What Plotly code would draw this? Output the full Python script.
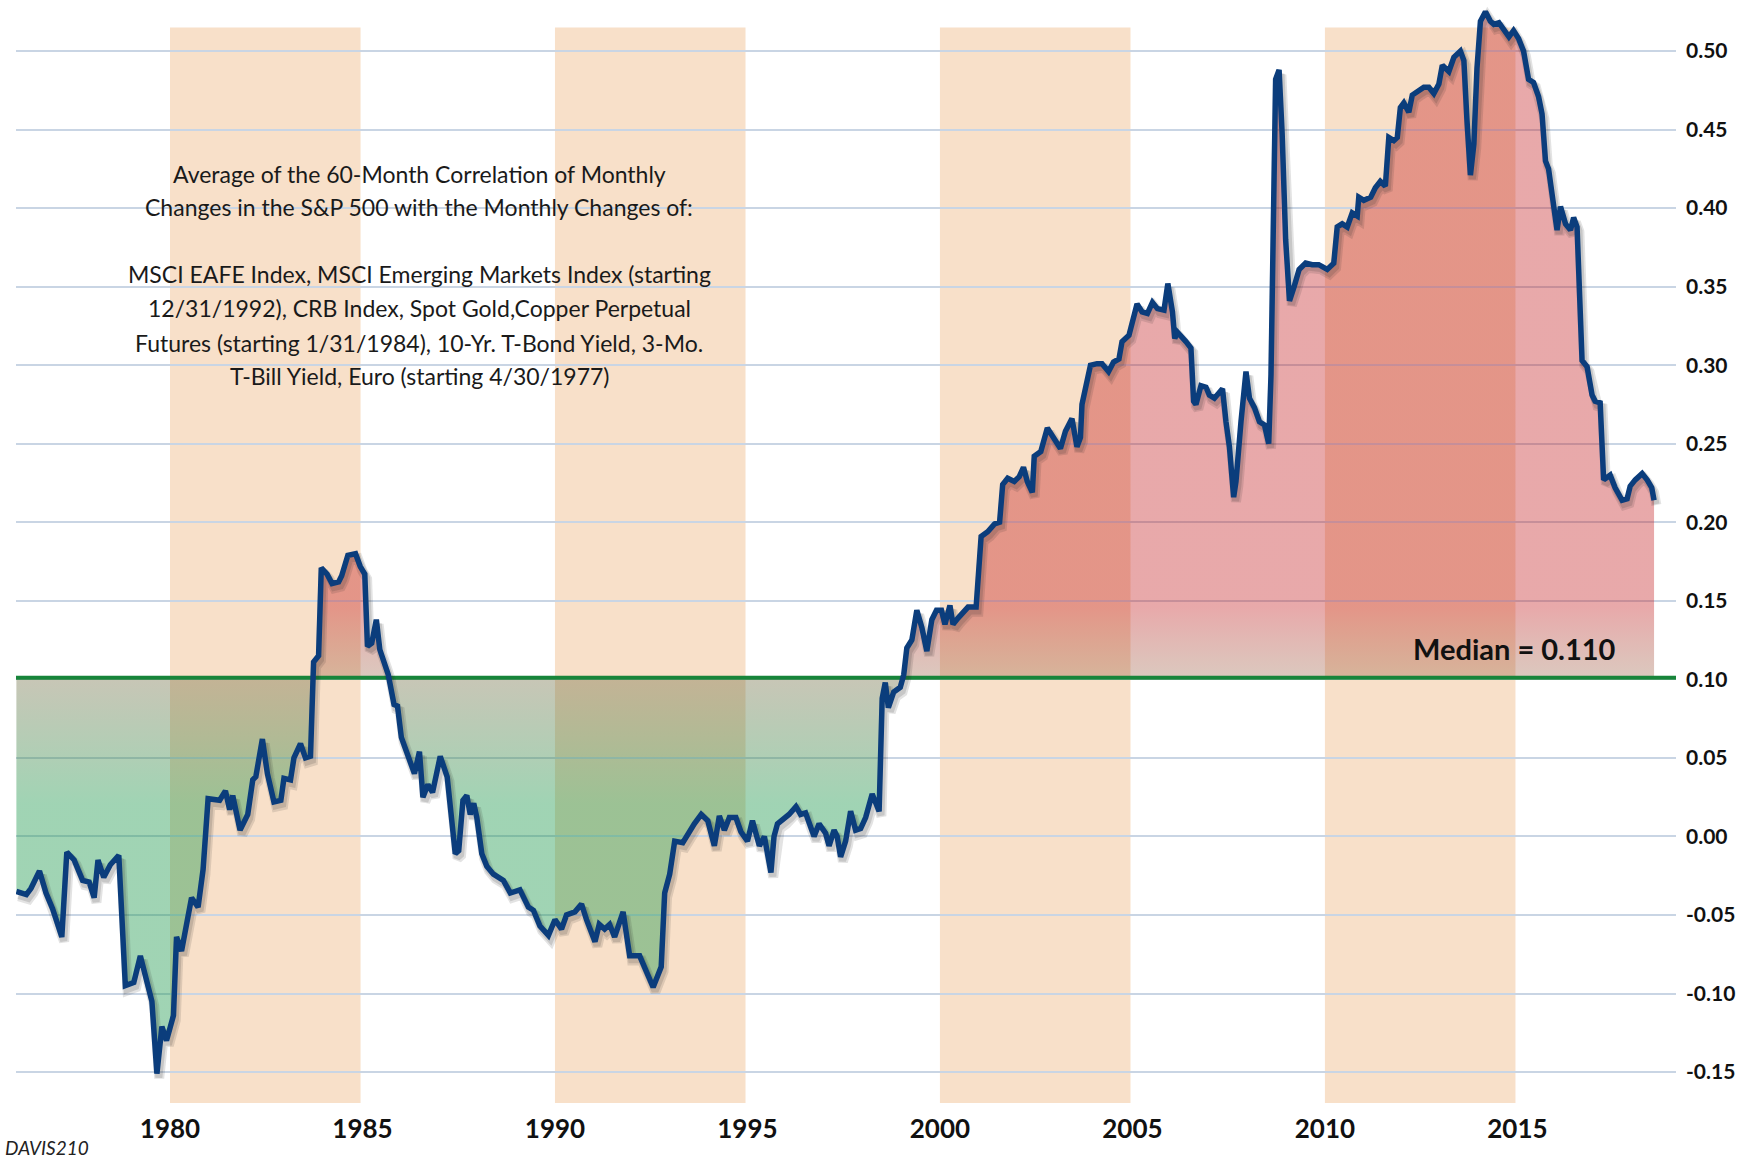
import plotly.graph_objects as go

# ---------------- data ----------------
years = [
    1976.01, 1976.27, 1976.39, 1976.61, 1976.78, 1976.95, 1977.19, 1977.32, 1977.51, 1977.73,
    1977.90, 1978.03, 1978.13, 1978.28, 1978.45, 1978.67, 1978.84, 1979.06, 1979.23, 1979.53,
    1979.66, 1979.79, 1979.91, 1980.09, 1980.17, 1980.30, 1980.56, 1980.73, 1980.86, 1980.99,
    1981.29, 1981.44, 1981.55, 1981.63, 1981.82, 1982.02, 1982.15, 1982.23, 1982.40, 1982.53,
    1982.70, 1982.88, 1982.96, 1983.13, 1983.22, 1983.39, 1983.52, 1983.65, 1983.73, 1983.86,
    1983.93, 1984.08, 1984.21, 1984.38, 1984.46, 1984.62, 1984.82, 1984.94, 1985.06, 1985.13,
    1985.24, 1985.36, 1985.45, 1985.58, 1985.67, 1985.82, 1985.91, 1986.01, 1986.18, 1986.35,
    1986.48, 1986.57, 1986.70, 1986.82, 1987.02, 1987.20, 1987.41, 1987.50, 1987.61, 1987.71,
    1987.80, 1987.89, 1987.97, 1988.10, 1988.23, 1988.40, 1988.66, 1988.84, 1989.09, 1989.31,
    1989.44, 1989.61, 1989.83, 1990.00, 1990.17, 1990.30, 1990.52, 1990.69, 1990.82, 1991.04,
    1991.15, 1991.29, 1991.42, 1991.55, 1991.77, 1991.94, 1992.20, 1992.33, 1992.55, 1992.76,
    1992.85, 1992.98, 1993.11, 1993.32, 1993.54, 1993.62, 1993.80, 1993.97, 1994.14, 1994.27,
    1994.40, 1994.53, 1994.70, 1994.83, 1995.00, 1995.13, 1995.31, 1995.44, 1995.61, 1995.69,
    1995.78, 1995.95, 1996.08, 1996.26, 1996.38, 1996.51, 1996.60, 1996.73, 1996.86, 1997.03,
    1997.12, 1997.25, 1997.33, 1997.42, 1997.55, 1997.68, 1997.81, 1997.94, 1998.07, 1998.24,
    1998.42, 1998.50, 1998.58, 1998.66, 1998.80, 1998.97, 1999.06, 1999.14, 1999.27, 1999.40,
    1999.53, 1999.66, 1999.79, 1999.91, 2000.04, 2000.13, 2000.26, 2000.34, 2000.47, 2000.60,
    2000.73, 2000.94, 2001.07, 2001.24, 2001.42, 2001.55, 2001.63, 2001.76, 2001.93, 2002.06,
    2002.17, 2002.27, 2002.40, 2002.45, 2002.62, 2002.79, 2002.96, 2003.13, 2003.26, 2003.43,
    2003.56, 2003.65, 2003.69, 2003.82, 2003.91, 2004.08, 2004.21, 2004.38, 2004.51, 2004.65,
    2004.73, 2004.91, 2004.99, 2005.12, 2005.25, 2005.39, 2005.52, 2005.65, 2005.82, 2005.92,
    2006.04, 2006.10, 2006.17, 2006.26, 2006.39, 2006.52, 2006.59, 2006.65, 2006.78, 2006.91,
    2007.00, 2007.13, 2007.26, 2007.34, 2007.43, 2007.52, 2007.63, 2007.69, 2007.82, 2007.95,
    2008.04, 2008.17, 2008.30, 2008.43, 2008.54, 2008.60, 2008.68, 2008.72, 2008.81, 2008.89,
    2008.98, 2009.08, 2009.20, 2009.33, 2009.50, 2009.67, 2009.84, 2010.06, 2010.23, 2010.32,
    2010.45, 2010.58, 2010.71, 2010.84, 2010.88, 2011.01, 2011.19, 2011.31, 2011.44, 2011.57,
    2011.66, 2011.79, 2011.88, 2011.96, 2012.05, 2012.18, 2012.27, 2012.44, 2012.57, 2012.70,
    2012.83, 2012.96, 2013.05, 2013.22, 2013.35, 2013.52, 2013.61, 2013.69, 2013.78, 2013.87,
    2013.95, 2014.04, 2014.17, 2014.30, 2014.39, 2014.52, 2014.60, 2014.78, 2014.90, 2015.03,
    2015.16, 2015.29, 2015.42, 2015.55, 2015.64, 2015.73, 2015.81, 2015.94, 2016.03, 2016.12,
    2016.25, 2016.38, 2016.46, 2016.55, 2016.59, 2016.68, 2016.81, 2016.94, 2017.02, 2017.15,
    2017.24, 2017.33, 2017.41, 2017.54, 2017.72, 2017.85, 2017.93, 2018.06, 2018.24, 2018.37,
    2018.49, 2018.55,
]
values = [
    -0.035, -0.037, -0.033, -0.022, -0.036, -0.046, -0.064, -0.010, -0.015, -0.028,
    -0.029, -0.039, -0.015, -0.026, -0.018, -0.012, -0.095, -0.093, -0.076, -0.105,
    -0.151, -0.121, -0.130, -0.114, -0.064, -0.073, -0.039, -0.045, -0.021, 0.024,
    0.023, 0.029, 0.017, 0.026, 0.004, 0.014, 0.036, 0.038, 0.062, 0.040,
    0.022, 0.023, 0.037, 0.036, 0.050, 0.059, 0.050, 0.051, 0.111, 0.115,
    0.171, 0.167, 0.161, 0.162, 0.166, 0.179, 0.180, 0.172, 0.167, 0.121,
    0.123, 0.138, 0.119, 0.110, 0.103, 0.084, 0.083, 0.063, 0.051, 0.040,
    0.054, 0.025, 0.033, 0.028, 0.051, 0.038, -0.011, -0.009, 0.023, 0.026,
    0.014, 0.021, 0.012, -0.011, -0.019, -0.024, -0.028, -0.036, -0.034, -0.045,
    -0.047, -0.057, -0.063, -0.053, -0.059, -0.050, -0.048, -0.043, -0.053, -0.067,
    -0.056, -0.059, -0.056, -0.064, -0.048, -0.076, -0.076, -0.084, -0.096, -0.083,
    -0.036, -0.024, -0.003, -0.004, 0.006, 0.008, 0.014, 0.010, -0.006, 0.013,
    0.004, 0.012, 0.012, 0.003, -0.003, 0.010, -0.006, 0.000, -0.023, 0.000,
    0.008, 0.011, 0.014, 0.019, 0.014, 0.015, 0.008, 0.000, 0.008, 0.002,
    -0.006, 0.004, 0.000, -0.013, -0.003, 0.016, 0.004, 0.005, 0.012, 0.027,
    0.016, 0.088, 0.098, 0.082, 0.092, 0.095, 0.103, 0.120, 0.125, 0.144,
    0.133, 0.118, 0.138, 0.144, 0.144, 0.135, 0.147, 0.135, 0.139, 0.142,
    0.146, 0.146, 0.191, 0.194, 0.199, 0.200, 0.224, 0.228, 0.226, 0.229,
    0.235, 0.226, 0.219, 0.242, 0.245, 0.260, 0.253, 0.247, 0.258, 0.266,
    0.248, 0.254, 0.275, 0.289, 0.300, 0.301, 0.301, 0.296, 0.302, 0.304,
    0.315, 0.319, 0.326, 0.339, 0.334, 0.333, 0.340, 0.336, 0.335, 0.352,
    0.334, 0.317, 0.321, 0.318, 0.315, 0.311, 0.277, 0.275, 0.287, 0.286,
    0.281, 0.279, 0.282, 0.285, 0.264, 0.248, 0.216, 0.226, 0.264, 0.296,
    0.279, 0.273, 0.264, 0.262, 0.250, 0.294, 0.420, 0.482, 0.488, 0.447,
    0.380, 0.341, 0.350, 0.361, 0.365, 0.364, 0.364, 0.361, 0.365, 0.388,
    0.390, 0.388, 0.397, 0.395, 0.407, 0.405, 0.407, 0.413, 0.417, 0.414,
    0.445, 0.443, 0.445, 0.464, 0.467, 0.461, 0.472, 0.475, 0.477, 0.477,
    0.473, 0.479, 0.491, 0.487, 0.496, 0.500, 0.494, 0.456, 0.421, 0.441,
    0.489, 0.519, 0.525, 0.519, 0.517, 0.518, 0.515, 0.509, 0.513, 0.508,
    0.500, 0.482, 0.480, 0.471, 0.460, 0.430, 0.425, 0.401, 0.386, 0.401,
    0.390, 0.386, 0.394, 0.388, 0.358, 0.303, 0.299, 0.281, 0.277, 0.276,
    0.227, 0.229, 0.230, 0.222, 0.214, 0.215, 0.223, 0.227, 0.231, 0.227,
    0.222, 0.214,
]

median_label_value = 0.110
median_line_value = 0.101

band_starts = [1980, 1990, 2000, 2010]
band_ends = [1984.95, 1994.95, 2004.95, 2014.95]
band_top_value = 0.515

x_tick_vals = [1980, 1985, 1990, 1995, 2000, 2005, 2010, 2015]
x_tick_labels = ["1980", "1985", "1990", "1995", "2000", "2005", "2010", "2015"]
y_tick_vals = [0.50, 0.45, 0.40, 0.35, 0.30, 0.25, 0.20, 0.15, 0.10, 0.05, 0.00, -0.05, -0.10, -0.15]
y_tick_labels = ["0.50", "0.45", "0.40", "0.35", "0.30", "0.25", "0.20", "0.15", "0.10",
                 "0.05", "0.00", "-0.05", "-0.10", "-0.15"]

note_lines = [
    "Average of the 60-Month Correlation of Monthly",
    "Changes in the S&P 500 with the Monthly Changes of:",
    "",
    "MSCI EAFE Index, MSCI Emerging Markets Index (starting",
    "12/31/1992), CRB Index, Spot Gold,Copper Perpetual",
    "Futures (starting 1/31/1984), 10-Yr. T-Bond Yield, 3-Mo.",
    "T-Bill Yield, Euro (starting 4/30/1977)",
]
source_label = "DAVIS210"

# ---------------- layout geometry ----------------
W, H = 1746, 1158
ML, MR, MT, MB = 16, 70, 0, 55
PW, PH = W - ML - MR, H - MT - MB
x_range = [1976.0, 2019.12]
y_range = [-0.1697, 0.5325]


def px_x(px):
    return (px - ML) / PW


def px_y(py):
    return (MT + PH - py) / PH


FONT = "Lato, 'Open Sans', sans-serif"
LINE_BLUE = "#0b3d7c"
GREEN = "#17853a"

n = len(years)
base = [median_line_value] * n
upper = [max(v, median_line_value) for v in values]
lower = [min(v, median_line_value) for v in values]

fig = go.Figure()

# red area above the median
fig.add_trace(go.Scatter(x=years, y=base, mode="lines", line=dict(width=0),
                         hoverinfo="skip", showlegend=False))
fig.add_trace(go.Scatter(
    x=years, y=upper, mode="lines", line=dict(width=0), fill="tonexty",
    fillgradient=dict(type="vertical",
                      colorscale=[[0, "rgba(150,95,65,0.34)"], [1, "rgba(193,22,25,0.37)"]],
                      start=median_line_value, stop=median_line_value + 0.045),
    hoverinfo="skip", showlegend=False))

# green area below the median
fig.add_trace(go.Scatter(x=years, y=base, mode="lines", line=dict(width=0),
                         hoverinfo="skip", showlegend=False))
fig.add_trace(go.Scatter(
    x=years, y=lower, mode="lines", line=dict(width=0), fill="tonexty",
    fillgradient=dict(type="vertical",
                      colorscale=[[0, "rgba(29,152,76,0.42)"], [1, "rgba(117,112,72,0.40)"]],
                      start=median_line_value - 0.08, stop=median_line_value),
    hoverinfo="skip", showlegend=False))

# median line
fig.add_trace(go.Scatter(x=x_range, y=[median_line_value, median_line_value], mode="lines",
                         line=dict(color=GREEN, width=4), hoverinfo="skip", showlegend=False))

# soft shadow under the series line
fig.add_trace(go.Scatter(x=[t + 0.06 for t in years], y=[v - 0.003 for v in values], mode="lines",
                         line=dict(color="rgba(40,40,40,0.13)", width=10),
                         hoverinfo="skip", showlegend=False))
fig.add_trace(go.Scatter(x=[t + 0.05 for t in years], y=[v - 0.0025 for v in values], mode="lines",
                         line=dict(color="rgba(40,40,40,0.15)", width=7),
                         hoverinfo="skip", showlegend=False))

# the series
fig.add_trace(go.Scatter(x=years, y=values, mode="lines",
                         line=dict(color=LINE_BLUE, width=5.5),
                         showlegend=False))

shapes = []
for s, e in zip(band_starts, band_ends):
    shapes.append(dict(type="rect", xref="x", yref="y", x0=s, x1=e,
                       y0=y_range[0], y1=band_top_value,
                       fillcolor="#f8e0c9", line=dict(width=0), layer="below"))

annotations = []
line_y = [174, 207, 241, 274, 308, 343, 376]
for txt, yy in zip(note_lines, line_y):
    if not txt:
        continue
    annotations.append(dict(text=txt, xref="paper", yref="paper", x=px_x(419), y=px_y(yy),
                            xanchor="center", yanchor="middle", showarrow=False,
                            font=dict(family=FONT, size=23, color="#1a1a1a")))

annotations.append(dict(text="Median = " + f"{median_label_value:.3f}", xref="paper", yref="paper",
                        x=px_x(1514), y=px_y(648), xanchor="center", yanchor="middle",
                        showarrow=False,
                        font=dict(family=FONT, size=29, color="#111111", weight="bold")))
annotations.append(dict(text=source_label, xref="paper", yref="paper",
                        x=px_x(3), y=px_y(1147), xanchor="left", yanchor="middle",
                        showarrow=False,
                        font=dict(family=FONT, size=19, color="#222222", style="italic")))

fig.update_layout(
    width=W, height=H,
    margin=dict(l=ML, r=MR, t=MT, b=MB, pad=0),
    paper_bgcolor="white", plot_bgcolor="white",
    showlegend=False,
    shapes=shapes,
    annotations=annotations,
    xaxis=dict(range=x_range, tickvals=x_tick_vals, ticktext=x_tick_labels,
               showgrid=False, zeroline=False, showline=False, ticks="", automargin=False,
               ticklabelstandoff=8,
               tickfont=dict(family=FONT, size=26, color="#111111", weight="bold")),
    yaxis=dict(range=y_range, side="right", tickvals=y_tick_vals, ticktext=y_tick_labels,
               showgrid=True, gridcolor="#c9d5e4", gridwidth=1.5, automargin=False,
               zeroline=False, showline=False, ticks="", ticklabelstandoff=9,
               tickfont=dict(family=FONT, size=21, color="#111111", weight="bold")),
)

fig.write_html("out.html",
               config={"displayModeBar": False},
               post_script="document.body.style.margin='0';document.body.style.overflow='hidden';")
